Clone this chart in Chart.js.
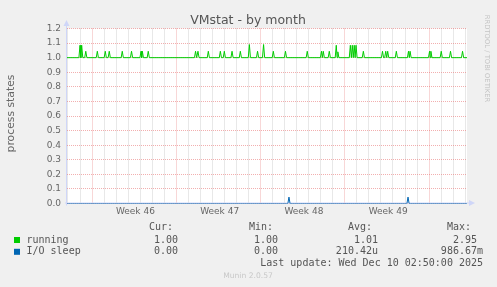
<!DOCTYPE html>
<html>
<head>
<meta charset="utf-8">
<title>VMstat - by month</title>
<script src="https://cdn.jsdelivr.net/npm/chart.js@4.4.0/dist/chart.umd.min.js"></script>
<style>
  html, body { margin: 0; padding: 0; background: #f0f0f0; }
  canvas { display: block; }
</style>
</head>
<body>
<canvas id="vmstatChart" width="497" height="287"></canvas>
<script>
// Dane wykresu, oś X w dniach od początku okna
const xMaxDays = 33.23;
const weekLabels = ["Week 46", "Week 47", "Week 48", "Week 49"];
const weekStartDays = [2.08, 9.08, 16.08, 23.08, 30.08];
const yTicks = [0.0, 0.1, 0.2, 0.3, 0.4, 0.5, 0.6, 0.7, 0.8, 0.9, 1.0, 1.1, 1.2];

// running: poziom bazowy + piki
const runningBase = 1.0;
const runningSpikeDays = [1.08, 1.22, 1.56, 2.52, 3.18, 3.51, 4.59, 5.36, 6.15, 6.26, 6.75,
  10.68, 10.88, 11.74, 12.74, 13.07, 13.71, 14.40, 15.15, 15.83, 16.33, 17.14, 18.15,
  19.96, 21.14, 21.29, 21.79, 22.37, 22.50, 23.54, 23.70, 23.86, 24.01, 24.62,
  26.21, 26.48, 26.64, 27.36, 28.37, 28.50, 30.12, 30.23, 31.09, 31.86, 32.86];
const runningSpikeValues = [1.085, 1.085, 1.044, 1.044, 1.044, 1.044, 1.044, 1.044, 1.044, 1.044, 1.044,
  1.044, 1.044, 1.044, 1.044, 1.044, 1.044, 1.044, 1.09, 1.044, 1.09, 1.044, 1.044,
  1.044, 1.044, 1.044, 1.044, 1.085, 1.04, 1.085, 1.085, 1.085, 1.085, 1.044,
  1.044, 1.044, 1.044, 1.044, 1.044, 1.044, 1.044, 1.044, 1.044, 1.044, 1.044];

// I/O sleep: poziom bazowy + piki
const ioSleepBase = 0.0;
const ioSleepSpikeDays = [18.44, 28.33];
const ioSleepSpikeValues = [0.044, 0.044];

// Legenda (statystyki)
const legendNames = ["running", "I/O sleep"];
const legendColors = ["#00cc00", "#0066b3"];
const legendCur = ["1.00", "0.00"];
const legendMin = ["1.00", "0.00"];
const legendAvg = ["1.01", "210.42u"];
const legendMax = ["2.95", "986.67m"];
const lastUpdate = "Last update: Wed Dec 10 02:50:00 2025";

// Budowa punktów linii z pików
function spikeLine(days, peaks, base) {
  const pts = [{ x: 0, y: base }];
  days.forEach((d, i) => {
    const prev = i > 0 ? days[i - 1] : -1;
    const next = i < days.length - 1 ? days[i + 1] : 99;
    const l = Math.max(d - 0.09, (prev + d) / 2);
    const r = Math.min(d + 0.09, (d + next) / 2);
    if (pts[pts.length - 1].x < l) pts.push({ x: l, y: base });
    pts.push({ x: d, y: peaks[i] });
    pts.push({ x: r, y: base });
  });
  pts.push({ x: xMaxDays, y: base });
  return pts;
}

// Ticki osi X: linie dzienne, poniedziałki, podpisy tygodni
function buildXTicks() {
  const ticks = [];
  for (let d = weekStartDays[0] - 2; d <= xMaxDays; d += 1) {
    const monday = weekStartDays.some(w => Math.abs(w - d) < 0.01);
    ticks.push({ value: d, kind: monday ? "major" : "minor", text: "" });
  }
  weekLabels.forEach((lab, i) => {
    ticks.push({ value: weekStartDays[i] + 3.6, kind: "label", text: lab });
  });
  return ticks;
}

const gridRed = "rgba(232, 110, 110, 0.55)";
const gridGray = "rgba(150, 150, 150, 0.45)";
const axisColor = "#cfd6f8";

const muninPlugin = {
  id: "munin",
  beforeDraw(chart) {
    const { ctx, chartArea: a } = chart;
    ctx.save();
    ctx.fillStyle = "#f0f0f0";
    ctx.fillRect(0, 0, chart.width, chart.height);
    ctx.fillStyle = "#ffffff";
    ctx.fillRect(a.left, a.top, a.right - a.left, a.bottom - a.top);
    ctx.restore();
  },
  beforeDatasetsDraw(chart) {
    const { ctx, chartArea: a } = chart;
    ctx.save();
    ctx.strokeStyle = axisColor;
    ctx.fillStyle = axisColor;
    ctx.lineWidth = 1;
    // oś Y
    ctx.beginPath();
    ctx.moveTo(a.left - 0.5, a.bottom + 2);
    ctx.lineTo(a.left - 0.5, 24);
    ctx.stroke();
    ctx.beginPath();
    ctx.moveTo(a.left - 3.5, 26);
    ctx.lineTo(a.left + 2.5, 26);
    ctx.lineTo(a.left - 0.5, 20);
    ctx.closePath();
    ctx.fill();
    // oś X
    ctx.beginPath();
    ctx.moveTo(a.left - 2, a.bottom - 0.5);
    ctx.lineTo(a.right + 4, a.bottom - 0.5);
    ctx.stroke();
    ctx.beginPath();
    ctx.moveTo(a.right + 2, a.bottom - 3.5);
    ctx.lineTo(a.right + 2, a.bottom + 2.5);
    ctx.lineTo(a.right + 8, a.bottom - 0.5);
    ctx.closePath();
    ctx.fill();
    ctx.restore();
  },
  afterDraw(chart) {
    const ctx = chart.ctx;
    ctx.save();
    // tytuł
    ctx.fillStyle = "#555555";
    ctx.font = "12.5px 'DejaVu Sans'";
    ctx.textAlign = "center";
    ctx.textBaseline = "alphabetic";
    ctx.fillText("VMstat - by month", 248, 23.5);
    // opis osi Y
    ctx.save();
    ctx.translate(11, 113.5);
    ctx.rotate(-Math.PI / 2);
    ctx.font = "10.8px 'DejaVu Sans'";
    ctx.textBaseline = "middle";
    ctx.fillStyle = "#666666";
    ctx.fillText("process states", 0, 0);
    ctx.restore();
    // znak wodny
    ctx.save();
    ctx.translate(487, 58.5);
    ctx.rotate(Math.PI / 2);
    ctx.font = "6.8px 'DejaVu Sans'";
    ctx.textBaseline = "middle";
    ctx.fillStyle = "#c4c4c4";
    ctx.fillText("RRDTOOL / TOBI OETIKER", 0, 0);
    ctx.restore();
    // legenda
    ctx.font = "10px 'DejaVu Sans Mono'";
    ctx.fillStyle = "#555555";
    ctx.textBaseline = "middle";
    ctx.textAlign = "left";
    [["Cur:", 149], ["Min:", 249], ["Avg:", 348], ["Max:", 447]].forEach(([t, x]) => ctx.fillText(t, x, 227.5));
    const rowsY = [240, 251.8];
    const rightX = [178, 278, 378, 477];
    legendNames.forEach((name, i) => {
      const y = rowsY[i];
      ctx.fillStyle = legendColors[i];
      ctx.fillRect(14, y - 3, 6, 6);
      ctx.fillStyle = "#555555";
      ctx.textAlign = "left";
      ctx.fillText(name, 26.5, y);
      ctx.textAlign = "right";
      ctx.fillText(legendCur[i], rightX[0], y);
      ctx.fillText(legendMin[i], rightX[1], y);
      ctx.fillText(legendAvg[i], rightX[2] + (legendAvg[i].length > 4 ? 0 : 0), y);
      ctx.fillText(legendMax[i], legendMax[i].length > 4 ? 483 : rightX[3], y);
    });
    ctx.textAlign = "right";
    ctx.fillText(lastUpdate, 483, 263.5);
    ctx.textAlign = "center";
    ctx.font = "7.6px 'DejaVu Sans'";
    ctx.fillStyle = "#c8c8c8";
    ctx.fillText("Munin 2.0.57", 248, 276);
    ctx.restore();
  }
};

new Chart(document.getElementById("vmstatChart").getContext("2d"), {
  type: "line",
  data: {
    datasets: [
      {
        label: legendNames[1],
        data: spikeLine(ioSleepSpikeDays, ioSleepSpikeValues, ioSleepBase),
        borderColor: legendColors[1],
        borderWidth: 1,
        pointRadius: 0,
        tension: 0,
        fill: false
      },
      {
        label: legendNames[0],
        data: spikeLine(runningSpikeDays, runningSpikeValues, runningBase),
        borderColor: legendColors[0],
        borderWidth: 1,
        pointRadius: 0,
        tension: 0,
        fill: false
      }
    ]
  },
  options: {
    responsive: false,
    animation: false,
    devicePixelRatio: 1,
    layout: { padding: { top: 28.5, right: 30, left: 0, bottom: 0 } },
    plugins: { legend: { display: false }, tooltip: { enabled: false }, title: { display: false } },
    scales: {
      x: {
        type: "linear",
        min: 0,
        max: xMaxDays,
        afterBuildTicks: s => { s.ticks = buildXTicks(); },
        afterFit: s => { s.height = 83.5; },
        ticks: {
          autoSkip: false,
          maxRotation: 0,
          padding: 3,
          color: "#666666",
          font: { family: "DejaVu Sans", size: 9 },
          callback: (v, i, ticks) => ticks[i].text
        },
        grid: {
          drawTicks: false,
          color: c => c.tick && c.tick.kind === "major" ? gridRed : (c.tick && c.tick.kind === "minor" ? gridGray : "rgba(0,0,0,0)")
        },
        border: { display: false, dash: [1, 1] }
      },
      y: {
        min: 0,
        max: 1.2,
        afterBuildTicks: s => { s.ticks = yTicks.map(v => ({ value: v })); },
        afterFit: s => { s.width = 67; },
        ticks: {
          padding: 6,
          color: "#666666",
          font: { family: "DejaVu Sans", size: 9 },
          callback: v => v.toFixed(1)
        },
        grid: { drawTicks: false, color: gridRed },
        border: { display: false, dash: [1, 1] }
      }
    }
  },
  plugins: [muninPlugin]
});
</script>
</body>
</html>
